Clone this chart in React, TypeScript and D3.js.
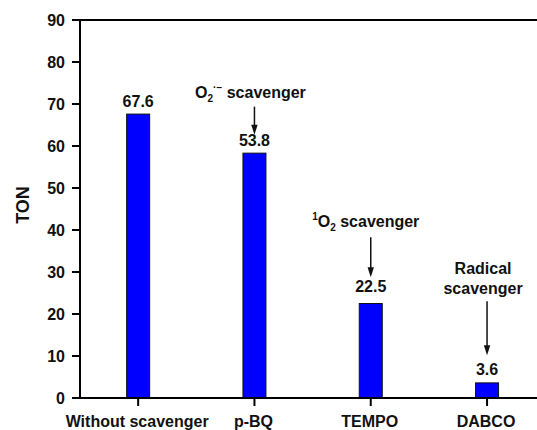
import React from "react";
import * as d3 from "d3";

// ---- data ----
const categories = ["Without scavenger", "p-BQ", "TEMPO", "DABCO"];
const tonValues = [67.6, 58.3, 22.5, 3.6]; // bar heights as drawn
const valueLabels = ["67.6", "53.8", "22.5", "3.6"];
const yTicks = [0, 10, 20, 30, 40, 50, 60, 70, 80, 90];
const yAxisTitle = "TON";

type Part = { t: string; kind?: "sub" | "sup" };
const annotationCategories = ["p-BQ", "TEMPO", "DABCO"];
const annotationLines: Part[][][] = [
  [[{ t: "O" }, { t: "2", kind: "sub" }, { t: "·−", kind: "sup" }, { t: " scavenger" }]],
  [[{ t: "1", kind: "sup" }, { t: "O" }, { t: "2", kind: "sub" }, { t: " scavenger" }]],
  [[{ t: "Radical" }], [{ t: "scavenger" }]],
];

// ---- layout ----
const W = 537;
const H = 430;
const left = 80;
const top = 20;
const bottom = 398;
const bandStep = 116.3;
const barW = 23;
const FONT = "'Liberation Sans', Arial, sans-serif";
const labelGap = [6.8, 7.2, 11.6, 7.6];
const annLayout = [
  { tipGap: 18.5, len: 28, textGap: 9, lineH: 0, dx: -4 },
  { tipGap: 26.3, len: 40, textGap: 10, lineH: 0, dx: -5 },
  { tipGap: 27.7, len: 54, textGap: 6.8, lineH: 20.7, dx: -4 },
];

export default function App() {
  const x = d3
    .scaleBand<string>()
    .domain(categories)
    .range([left, left + bandStep * categories.length])
    .paddingInner(0)
    .paddingOuter(0);
  const y = d3.scaleLinear().domain([0, 90]).range([bottom, top]);
  const cx = (c: string) => (x(c) as number) + x.bandwidth() / 2;

  const renderParts = (parts: Part[]) => {
    let shift = 0;
    return parts.map((p, i) => {
      let target = 0;
      let size = 16;
      if (p.kind === "sub") {
        target = 4;
        size = 10;
      } else if (p.kind === "sup") {
        target = -7;
        size = 10;
      }
      const dy = target - shift;
      shift = target;
      return (
        <tspan key={i} dy={dy} fontSize={size}>
          {p.t}
        </tspan>
      );
    });
  };

  return (
    <svg
      width={W}
      height={H}
      style={{ position: "absolute", left: 0, top: 0, background: "#fff" }}
      fontFamily={FONT}
      fontWeight="bold"
    >
      <rect x={0} y={0} width={W} height={H} fill="#fff" />
      {/* bars */}
      {categories.map((c, i) => (
        <rect
          key={c}
          x={cx(c) - barW / 2}
          y={y(tonValues[i])}
          width={barW}
          height={bottom - y(tonValues[i])}
          fill="#0000ff"
          stroke="#111"
          strokeWidth={1}
        />
      ))}
      {/* frame */}
      <line x1={left} x2={W + 2} y1={top} y2={top} stroke="#000" strokeWidth={2} />
      <line x1={left} x2={W + 2} y1={bottom} y2={bottom} stroke="#000" strokeWidth={2} />
      <line x1={left} x2={left} y1={top - 1} y2={bottom + 1} stroke="#000" strokeWidth={2} />
      {/* y ticks */}
      {yTicks.map((t) => (
        <g key={t}>
          <line x1={left - 8} x2={left} y1={y(t)} y2={y(t)} stroke="#000" strokeWidth={2} />
          <text x={left - 15} y={y(t)} dy="0.36em" textAnchor="end" fontSize={16} fill="#111">
            {t}
          </text>
        </g>
      ))}
      {/* x ticks */}
      {categories.map((c) => (
        <g key={c}>
          <line x1={cx(c)} x2={cx(c)} y1={bottom} y2={bottom + 8} stroke="#000" strokeWidth={2} />
          <text x={cx(c) - 1} y={427} textAnchor="middle" fontSize={16} fill="#111">
            {c}
          </text>
        </g>
      ))}
      {/* y title */}
      <text
        transform={`translate(28.5, ${(top + bottom) / 2 - 4}) rotate(-90)`}
        textAnchor="middle"
        fontSize={18}
        fill="#111"
      >
        {yAxisTitle}
      </text>
      {/* value labels */}
      {categories.map((c, i) => (
        <text
          key={c}
          x={cx(c)}
          y={y(tonValues[i]) - labelGap[i]}
          textAnchor="middle"
          fontSize={16}
          fill="#111"
        >
          {valueLabels[i]}
        </text>
      ))}
      {/* annotations */}
      {annotationCategories.map((c, k) => {
        const i = categories.indexOf(c);
        const L = annLayout[k];
        const xc = cx(c);
        const tip = y(tonValues[i]) - L.tipGap;
        const start = tip - L.len;
        const baseY = start - L.textGap;
        const lines = annotationLines[k];
        return (
          <g key={c}>
            <line x1={xc} x2={xc} y1={start} y2={tip - 8} stroke="#111" strokeWidth={1.5} />
            <path
              d={`M${xc - 3.2},${tip - 10} L${xc + 3.2},${tip - 10} L${xc},${tip} Z`}
              fill="#111"
            />
            {lines.map((ln, j) => (
              <text
                key={j}
                x={xc + L.dx}
                y={baseY - (lines.length - 1 - j) * L.lineH}
                textAnchor="middle"
                fontSize={16}
                fill="#111"
              >
                {renderParts(ln)}
              </text>
            ))}
          </g>
        );
      })}
    </svg>
  );
}
